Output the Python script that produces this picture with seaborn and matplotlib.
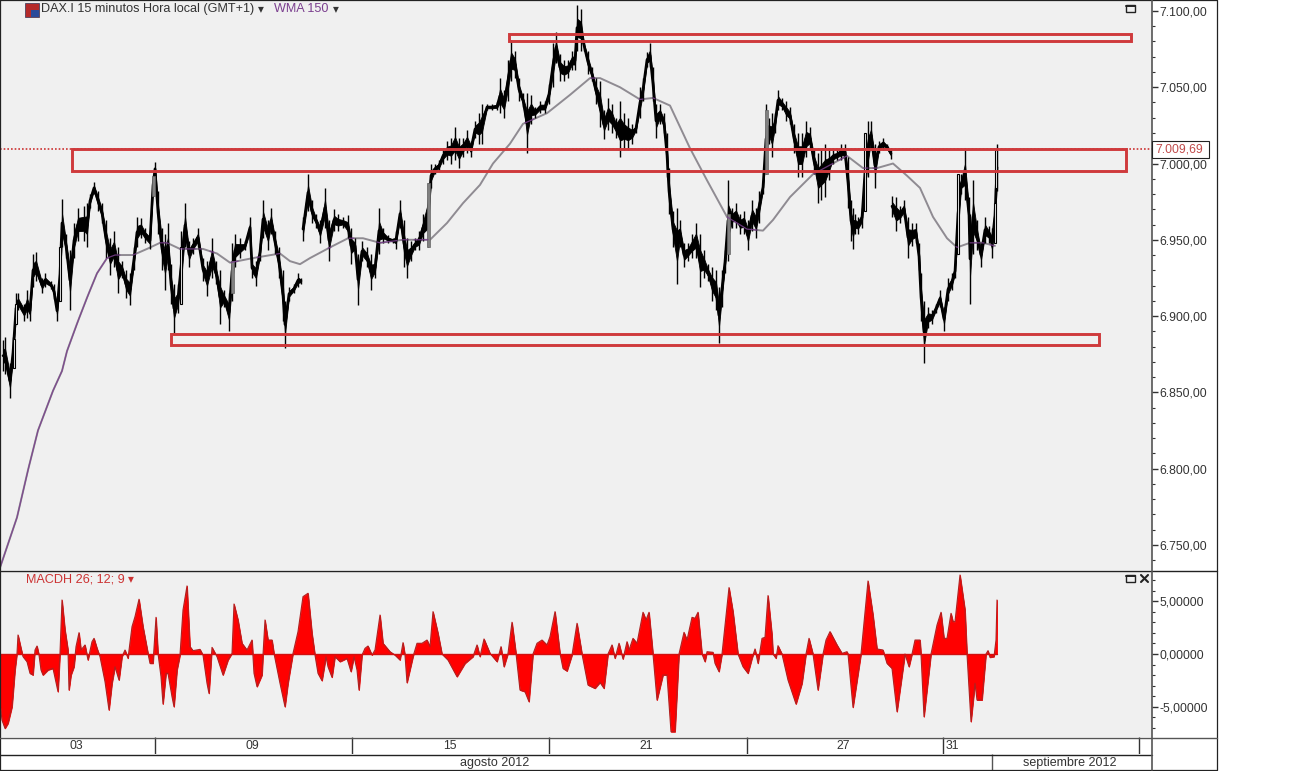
import numpy as np
import pandas as pd
import matplotlib
matplotlib.use('Agg')
import matplotlib.pyplot as plt
import seaborn as sns
from matplotlib.lines import Line2D
from matplotlib.patches import Rectangle
from matplotlib.ticker import FuncFormatter, MultipleLocator

# barras de 15 minutos (posicion en el eje), maximos y minimos
bar_x = [3,5,10,13,16,18,24,27,30,33,36,42,45,51,54,57,60,62,66,70,74,78,84,87,90,94,98,102,106,110,114,118,122,126,130,134,137,141,145,150,
         153,155,158,162,165,168,171,174,178,181,185,189,193,198,203,207,212,216,220,224,229,232,235,240,245,250,252,256,260,263,268,271,275,279,283,285,289,294,298,301,
         303,308,312,316,320,325,329,334,338,343,348,351,355,358,362,367,371,375,379,383,388,393,396,400,404,407,411,415,419,423,428,431,435,439,443,447,451,455,459,463,
         467,471,475,479,482,487,492,497,500,504,508,511,515,519,523,527,531,535,540,545,549,553,556,560,564,568,572,575,577,581,584,588,592,596,600,604,608,612,616,620,
         624,628,632,636,640,643,647,650,653,656,660,664,667,669,673,677,680,684,688,692,696,700,704,708,712,716,719,722,725,728,732,736,740,744,748,752,756,759,763,766,
         769,772,775,778,782,786,790,794,798,802,806,810,814,818,821,825,829,833,837,841,845,848,851,853,855,858,862,865,868,871,875,879,883,887,891,
         892,896,900,904,908,912,916,919,921,924,928,932,936,940,944,948,952,955,958,961,965,969,970,973,977,981,985,989,992,995,997]
high = [6884,6886,6869,6886,6915,6915,6908,6917,6910,6941,6942,6925,6928,6923,6921,6910,6945,6977,6954,6943,6961,6971,6972,6974,6980,6988,6982,6974,6963,6951,6956,6945,6936,6930,6928,6945,6965,6964,6958,6955,
        6992,7001,6982,6958,6954,6961,6934,6921,6921,6956,6974,6949,6951,6958,6938,6936,6951,6936,6930,6917,6915,6948,6954,6951,6949,6965,6938,6936,6948,6976,6963,6971,6956,6945,6930,6910,6919,6921,6928,6925,
        6965,6993,6976,6967,6963,6984,6963,6970,6967,6965,6966,6958,6951,6941,6949,6945,6941,6938,6971,6958,6953,6951,6956,6976,6963,6951,6949,6951,6956,6967,6987,7000,7000,7002,7010,7015,7017,7024,7017,7017,
        7022,7015,7028,7033,7039,7039,7039,7040,7056,7048,7068,7081,7074,7056,7046,7046,7045,7037,7041,7041,7052,7079,7086,7072,7068,7068,7074,7074,7104,7101,7081,7074,7063,7056,7054,7035,7043,7039,7030,7041,
        7033,7030,7026,7026,7050,7056,7073,7079,7063,7039,7039,7033,7020,6997,6969,6971,6963,6948,6948,6954,6961,6954,6943,6934,6932,6930,6919,6930,6943,6989,6971,6974,6967,6969,6963,6976,6971,6982,6989,7039,
        7030,7033,7033,7048,7043,7041,7037,7026,7020,7020,7028,7024,7010,7007,7009,7013,7010,7009,7009,7013,7013,7004,6976,6971,6967,6965,6971,7020,7028,7028,7013,7015,7017,7013,7010,
        6979,6978,6972,6976,6965,6961,6961,6948,6928,6910,6906,6904,6908,6917,6906,6925,6928,6934,6993,6993,7010,6978,6967,6989,6963,6948,6965,6959,6958,6984,7013]
low = [6864,6862,6846,6866,6895,6904,6897,6899,6897,6919,6923,6915,6919,6918,6911,6897,6910,6945,6938,6904,6938,6949,6949,6945,6971,6980,6969,6961,6938,6927,6932,6915,6925,6912,6907,6930,6945,6951,6948,6944,
       6979,6992,6954,6930,6917,6930,6908,6889,6902,6908,6945,6932,6941,6945,6923,6913,6925,6921,6895,6906,6890,6910,6932,6938,6943,6951,6925,6920,6936,6951,6943,6954,6941,6925,6897,6879,6910,6915,6919,6921,
       6949,6969,6961,6958,6948,6958,6936,6956,6956,6958,6951,6934,6941,6907,6936,6932,6917,6925,6941,6948,6948,6948,6944,6958,6932,6925,6936,6943,6943,6949,6945,6984,6993,6995,7000,7002,7000,7002,6997,7004,
       7007,7004,7017,7013,7013,7035,7035,7035,7033,7030,7041,7054,7056,7041,7037,7007,7026,7030,7033,7033,7039,7050,7066,7054,7054,7056,7061,7061,7074,7074,7074,7059,7054,7039,7024,7016,7022,7020,7017,7004,
       7009,7009,7013,7020,7030,7041,7063,7063,7041,7017,7026,7020,6991,6967,6945,6921,6945,6932,6936,6938,6938,6919,6925,6923,6910,6904,6882,6906,6928,6936,6958,6958,6954,6954,6943,6956,6951,6961,6980,6993,
       7013,7004,7020,7035,7035,7028,7026,7007,6991,6991,7004,7009,6993,6974,6976,6978,6989,7000,7002,7002,7002,6971,6949,6944,6954,6954,6958,6969,6991,7009,6984,7007,7009,7009,7003,
       6965,6956,6961,6965,6938,6946,6948,6930,6897,6869,6892,6895,6902,6906,6890,6910,6917,6925,6941,6980,6976,6954,6908,6941,6943,6932,6948,6948,6938,6948,6982]
session_breaks = [302, 892]

# velas largas que se distinguen: huecas (blancas) y grises
hollow_x = [14, 16, 60, 181, 865, 958, 995, 996]
hollow_top = [6885, 6908, 6945, 6945, 7020, 6993, 6974, 7009]
hollow_bot = [6866, 6895, 6910, 6908, 6969, 6941, 6948, 6984]
gray_x = [153, 232, 428, 728, 766]
gray_top = [6992, 6936, 6987, 6967, 7035]
gray_bot = [6979, 6915, 6945, 6941, 6993]

wma_x = [0,17,28,38,53,62,67,77,87,97,107,115,133,147,160,167,180,190,203,217,230,253,280,290,300,310,330,348,363,380,403,430,447,463,480,493,510,523,547,570,590,600,
         620,640,653,670,690,707,727,747,763,773,790,813,847,863,877,893,907,920,933,947,957,970,983,995]
wma = [6735,6768,6799,6825,6851,6864,6877,6895,6912,6928,6938,6940,6940,6944,6948,6948,6944,6944,6944,6941,6935,6938,6941,6936,6934,6938,6945,6951,6951,6948,6950,6950,6961,6974,6986,7000,7013,7026,7033,7045,7056,7056,
       7050,7042,7043,7038,7010,6989,6965,6957,6956,6963,6978,6993,7005,6997,6997,7000,6992,6984,6965,6951,6945,6948,6948,6946]

macd_x = [0,2,5,8,12,15,17,18,21,23,27,30,33,35,37,39,41,43,48,53,57,58,60,62,65,68,69,71,74,76,79,81,85,88,92,94,97,100,105,109,
          112,115,119,122,125,128,132,135,139,143,148,150,153,156,158,161,163,166,168,172,174,177,180,183,187,190,193,200,203,207,209,212,217,223,228,232,234,238,242,247,
          252,254,257,262,263,265,268,272,274,280,285,288,293,298,303,308,312,315,318,322,326,328,332,335,340,347,351,354,357,359,362,365,368,372,375,380,383,390,395,400,
          403,405,407,413,417,422,427,430,433,438,442,448,457,465,473,477,480,484,490,497,501,504,508,512,516,520,525,529,533,537,542,547,550,555,560,563,567,572,577,582,
          588,595,600,604,608,612,615,619,623,627,629,633,637,643,646,649,653,657,663,667,671,675,679,684,687,692,695,698,702,705,707,713,715,719,722,729,733,738,743,748,
          752,755,758,762,765,768,772,773,776,778,782,788,796,802,806,809,813,818,823,826,830,837,842,847,848,853,861,868,873,877,883,887,892,897,905,909,912,915,920,921,
          924,931,937,941,944,947,951,953,955,960,965,967,971,975,977,982,986,988,990,994,996,997]
macd = [-4.70,-6.29,-7.08,-6.60,-5.02,-1.52,0.06,1.81,0.54,-0.25,-0.73,-1.84,-2.00,0.38,0.76,-0.10,-1.52,-2.00,-1.52,-1.37,-3.11,-3.59,0.06,5.14,2.29,0.38,-3.43,-2.00,-1.21,0.70,2.03,0.38,0.86,-0.57,1.17,1.49,0.54,-0.25,-2.63,-5.33,
        -2.79,-1.21,-2.48,-0.25,0.38,-0.41,2.60,3.56,5.21,2.60,0.06,-0.89,-0.89,3.49,0.06,-2.16,-4.76,-1.84,-1.84,-4.06,-5.02,-1.52,-0.10,4.19,6.48,0.70,0.32,0.44,-0.10,-2.79,-3.75,0.63,-0.25,-2.00,-0.57,0.06,4.76,3.24,1.02,0.38,
        1.33,-1.84,-3.11,-2.00,-0.10,3.24,1.33,1.33,0.06,-2.79,-5.02,-2.79,0.06,2.13,5.46,5.78,1.97,-0.10,-1.84,-2.54,-0.25,-1.21,-2.22,-0.25,-0.73,-0.41,-1.68,-0.25,-1.52,-3.43,-0.10,0.54,0.76,-0.10,0.38,3.71,1.02,0.22,-0.10,-0.57,
        1.08,-0.10,-2.73,-0.25,1.02,1.02,1.33,0.70,4.03,1.97,0.00,-0.57,-2.16,-0.89,-0.25,0.86,-0.25,1.43,0.06,-0.73,0.70,-1.21,0.06,3.02,0.06,-3.43,-3.59,-4.54,0.00,1.02,1.33,0.86,1.65,4.03,0.06,-1.37,-1.62,-0.10,2.92,0.00,
        -2.95,-3.27,-2.70,-3.27,0.00,0.86,-0.41,1.02,-0.48,1.17,0.38,1.49,1.02,3.97,3.24,3.97,0.00,-4.38,-2.00,-2.00,-7.40,-7.40,0.00,2.06,1.33,3.49,3.40,3.97,0.00,-0.73,0.22,0.16,-0.89,-1.68,0.00,6.32,4.03,0.00,-1.21,-1.84,
        -0.41,0.48,-0.89,1.49,1.59,5.56,1.81,0.00,-0.41,0.79,0.00,-2.48,-4.76,-2.79,0.00,1.49,0.00,-3.43,0.00,1.33,2.13,0.86,0.06,0.22,0.00,-5.08,0.00,6.95,3.71,0.48,0.38,-0.89,-1.37,-5.49,0.00,-1.21,0.00,1.33,1.33,0.00,
        -5.97,0.00,2.76,3.97,1.49,1.49,3.87,3.08,3.08,7.52,4.19,0.00,-6.44,-2.79,-4.38,-4.38,0.00,0.32,-0.32,-0.25,1.33,5.14]

last_price = 7009.69

# zonas marcadas a mano: x inicial, x final, precio inferior, precio superior
zone_x0 = [509, 72, 171]
zone_x1 = [1131, 1126, 1099]
zone_lo = [7080, 6995, 6881]
zone_hi = [7085, 7009.5, 6888]

date_seps = [155, 352, 549, 747, 943, 1139]
date_pos = [76, 252, 450, 646, 843]
date_labels = ['03', '09', '15', '21', '27']
month_sep = 992

W, H = 1300, 771
TXT = '#333333'
BG = '#f0f0f0'
RED = '#cf3a3c'
PURPLE = '#7b3f8f'

sns.set_theme(style='white')
plt.rcParams['font.family'] = ['Liberation Sans', 'DejaVu Sans']
plt.rcParams['font.size'] = 8.7


def box(x0, y0, x1, y1):
    # caja en pixeles de la imagen, origen arriba a la izquierda
    return [x0 / W, 1 - y1 / H, (x1 - x0) / W, (y1 - y0) / H]


def px_line(fig, xs, ys, color='#222222', lw=1.0):
    fig.add_artist(Line2D([x / W for x in xs], [1 - y / H for y in ys], color=color, lw=lw, zorder=20))


def px_rect(fig, x0, y0, x1, y1, **kw):
    fig.add_artist(Rectangle((x0 / W, 1 - y1 / H), (x1 - x0) / W, (y1 - y0) / H,
                             transform=fig.transFigure, zorder=21, **kw))


def dropdown(fig, x, y, color):
    fig.text(x / W, 1 - y / H, '▾', color=color, fontsize=8.5, ha='center', va='center',
             family=['DejaVu Sans'])


fig = plt.figure(figsize=(13, 7.71), dpi=100, facecolor='white')
ax = fig.add_axes(box(0, 0, 1152, 570), facecolor=BG)
ax_m = fig.add_axes(box(0, 571, 1152, 737), facecolor=BG)
ax_d = fig.add_axes(box(0, 737, 1152, 754), facecolor='white')
ax_mo = fig.add_axes(box(0, 754, 1152, 770), facecolor='white')

bars = pd.DataFrame({'x': bar_x, 'high': high, 'low': low})
bars['mid'] = (bars['high'] + bars['low']) / 2
bars['half'] = (bars['high'] - bars['low']) * 0.2
bars['session'] = np.searchsorted(session_breaks, bars['x'], side='right')

# media ponderada debajo de las velas
sns.lineplot(x=wma_x, y=wma, ax=ax, color='#8f8b92', lw=1.4, zorder=2, legend=False)

# velas: mecha y cuerpo denso, por sesion para dejar los huecos
ax.vlines(bars['x'], bars['low'], bars['high'], color='black', lw=1.0, zorder=3)
for _, s in bars.groupby('session'):
    ax.fill_between(s['x'], s['mid'] - s['half'], s['mid'] + s['half'], color='black', lw=0.6, zorder=3)
sns.lineplot(data=bars, x='x', y='mid', units='session', estimator=None, sort=False,
             ax=ax, color='black', lw=1.9, zorder=3, legend=False)
ax.bar(hollow_x, np.subtract(hollow_top, hollow_bot), bottom=hollow_bot, width=2.6,
       facecolor=BG, edgecolor='black', lw=0.8, zorder=3.5)
ax.bar(gray_x, np.subtract(gray_top, gray_bot), bottom=gray_bot, width=3,
       facecolor='#808080', edgecolor='#666666', lw=0.5, zorder=3.5)

# la media se ve morada donde pasa por encima de las velas
wx = np.arange(wma_x[0], wma_x[-1] + 1)
wy = np.interp(wx, wma_x, wma)
inside = (wy > np.interp(wx, bar_x, low)) & (wy < np.interp(wx, bar_x, high))
ax.plot(wx, np.where(inside | (wx < 110), wy, np.nan), color=PURPLE, lw=0.9, alpha=0.85, zorder=4)

ax.axhline(last_price, color='#cc3333', lw=1.2, ls=(0, (1, 1.2)), zorder=2)
for x0, x1, lo, hi in zip(zone_x0, zone_x1, zone_lo, zone_hi):
    ax.add_patch(Rectangle((x0, lo), x1 - x0, hi - lo, fill=False, ec=RED, lw=2.1, zorder=6))

ax.set_xlim(0, 1152)
ax.set_ylim(6733.5, 7107.2)
ax.yaxis.tick_right()
ax.yaxis.set_major_locator(MultipleLocator(50))
ax.yaxis.set_minor_locator(MultipleLocator(10))
ax.yaxis.set_major_formatter(FuncFormatter(lambda v, p: f'{v:,.2f}'.replace(',', 'X').replace('.', ',').replace('X', '.')))

# panel MACDH
ax_m.fill_between(macd_x, 0, macd, color='#ff0000', lw=0.6, zorder=2)
sns.lineplot(x=macd_x, y=macd, ax=ax_m, color='#b02020', lw=0.8, zorder=3, legend=False)
ax_m.axhline(0, xmin=0, xmax=997 / 1152, color='#d01010', lw=1.0, zorder=3)
ax_m.set_xlim(0, 1152)
ax_m.set_ylim(-7.9, 7.9)
ax_m.yaxis.tick_right()
ax_m.yaxis.set_major_locator(MultipleLocator(5))
ax_m.yaxis.set_minor_locator(MultipleLocator(1))
ax_m.yaxis.set_major_formatter(FuncFormatter(lambda v, p: f'{v:.5f}'.replace('.', ',').replace('\u2212', '-')))

for a in (ax, ax_m):
    a.set_xticks([])
    a.set_xlabel('')
    a.set_ylabel('')
    a.tick_params(axis='y', which='major', direction='out', length=4.5, width=1, color='#333333',
                  labelcolor=TXT, labelsize=8.8, pad=1, right=True, left=False)
    a.tick_params(axis='y', which='minor', direction='out', length=2.5, width=0.8, color='#333333',
                  right=True, left=False)
    for s in a.spines.values():
        s.set_visible(False)

# filas de fechas
for a in (ax_d, ax_mo):
    a.set_xlim(0, 1152)
    a.set_ylim(0, 1)
    a.set_xticks([])
    a.set_yticks([])
    for s in a.spines.values():
        s.set_visible(False)
ax_d.vlines(date_seps, 0, 1, color='#333333', lw=1)
for p, lab in zip(date_pos, date_labels):
    ax_d.text(p, 0.45, lab, color=TXT, ha='center', va='center', fontsize=8.8)
ax_d.text(946, 0.45, '31', color=TXT, ha='left', va='center', fontsize=8.8)
ax_mo.vlines([month_sep], 0, 1, color='#555555', lw=1)
ax_mo.text(495, 0.45, 'agosto 2012', color=TXT, ha='center', va='center', fontsize=9)
ax_mo.text(1070, 0.45, 'septiembre 2012', color=TXT, ha='center', va='center', fontsize=9)

# marcos
px_line(fig, [0.3, 1217, 1217, 0.3, 0.3], [0.3, 0.3, 770, 770, 0.3], lw=0.9)
px_line(fig, [0, 1217], [570.5, 570.5])
px_line(fig, [0, 1217], [737.5, 737.5], color='#555555')
px_line(fig, [0, 1152], [754.5, 754.5])
px_line(fig, [1152, 1152], [0, 770], color='#555555', lw=1.2)

# precio actual
px_rect(fig, 1152, 141, 1209, 158, fc='white', ec='#222222', lw=0.8)
fig.text(1155 / W, 1 - 149.5 / H, '7.009,69', color='#c04a4a', fontsize=8.8, va='center', ha='left', zorder=22)

# cabeceras
px_rect(fig, 25, 3, 39, 17, fc='#b52a2a', ec='#333355', lw=0.5)
px_rect(fig, 31, 10, 39, 17, fc='#2a4a9a', ec='none')
fig.text(41 / W, 1 - 9 / H, 'DAX.I 15 minutos Hora local (GMT+1)', color=TXT, fontsize=9.05, va='center')
dropdown(fig, 261, 8.5, TXT)
fig.text(274 / W, 1 - 9 / H, 'WMA 150', color=PURPLE, fontsize=9.05, va='center')
dropdown(fig, 336, 8.5, TXT)
fig.text(26 / W, 1 - 580 / H, 'MACDH 26; 12; 9', color='#cc3333', fontsize=9.05, va='center')
dropdown(fig, 131, 579, '#cc3333')

# botones de la ventana
px_rect(fig, 1126, 5, 1135, 12, fc='none', ec='#222222', lw=1)
px_line(fig, [1126, 1135], [6, 6], lw=1.4)
px_rect(fig, 1126, 575, 1135, 582, fc='none', ec='#222222', lw=1)
px_line(fig, [1126, 1135], [576, 576], lw=1.4)
px_line(fig, [1141, 1148], [575, 582], lw=1.5)
px_line(fig, [1148, 1141], [575, 582], lw=1.5)

fig.savefig('out.png', dpi=100, facecolor='white')
